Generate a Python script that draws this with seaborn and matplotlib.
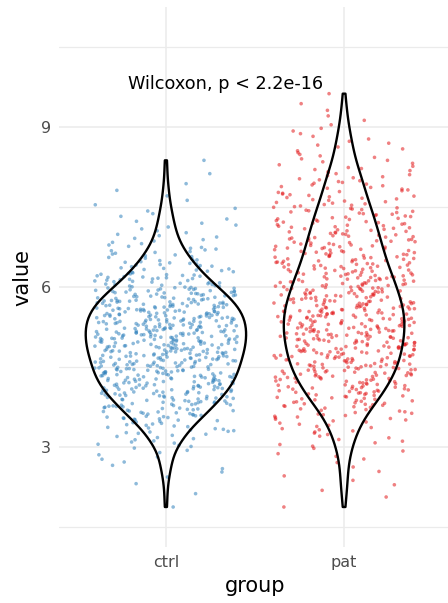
import numpy as np
import pandas as pd
import matplotlib
matplotlib.use("Agg")
import matplotlib.pyplot as plt
import seaborn as sns

# ---- data ----
groups = ["ctrl", "pat"]
bin_width = 0.25
# lower edges of value bins
ctrl_bins = [1.75, 2.0, 2.25, 2.5, 2.75, 3.0, 3.25, 3.5, 3.75, 4.0, 4.25, 4.5, 4.75,
             5.0, 5.25, 5.5, 5.75, 6.0, 6.25, 6.5, 6.75, 7.0, 7.25, 7.5, 7.75, 8.0, 8.25]
ctrl_counts = [1, 1, 2, 4, 6, 12, 20, 31, 41, 50, 55, 58, 61,
               62, 61, 56, 46, 34, 24, 16, 10, 7, 5, 3, 2, 1, 1]
pat_bins = [1.75, 2.0, 2.25, 2.5, 2.75, 3.0, 3.25, 3.5, 3.75, 4.0, 4.25, 4.5, 4.75,
            5.0, 5.25, 5.5, 5.75, 6.0, 6.25, 6.5, 6.75, 7.0, 7.25, 7.5, 7.75, 8.0,
            8.25, 8.5, 8.75, 9.0, 9.25, 9.5]
pat_counts = [1, 2, 3, 3, 5, 8, 12, 18, 27, 34, 40, 44, 46,
              48, 48, 47, 43, 40, 35, 32, 29, 26, 23, 19, 16, 13,
              9, 7, 5, 3, 2, 1]
y_ticks = [3, 6, 9]
label_text = "Wilcoxon, p < 2.2e-16"
colors = {"ctrl": "#3182bd", "pat": "#e31a1c"}


def expand(bins, counts):
    vals = []
    for lo, k in zip(bins, counts):
        for i in range(k):
            vals.append(lo + bin_width * (i + 0.5) / k)
    return vals


ctrl_vals = expand(ctrl_bins, ctrl_counts)
pat_vals = expand(pat_bins, pat_counts)
df = pd.DataFrame({
    "group": ["ctrl"] * len(ctrl_vals) + ["pat"] * len(pat_vals),
    "value": ctrl_vals + pat_vals,
})

sns.set_theme(style="whitegrid")
plt.rcParams["font.family"] = ["DejaVu Sans"]

fig = plt.figure(figsize=(4.48, 6.03), dpi=100)
ax = fig.add_axes([59 / 448, 56 / 603, 392 / 448, 540 / 603])

np.random.seed(3)
sns.stripplot(data=df, x="group", y="value", hue="group", order=groups,
              palette=colors, jitter=0.4, size=2.6, alpha=0.55, linewidth=0,
              legend=False, ax=ax, zorder=2)
n_before = len(ax.collections)
n_lines = len(ax.lines)
n_patches = len(ax.patches)
sns.violinplot(data=df, x="group", y="value", order=groups, fill=False,
               color="black", linecolor="black", linewidth=1.7, inner=None,
               cut=0, width=0.9, bw_adjust=0.6, density_norm="area", ax=ax)
for art in ax.collections[n_before:] + ax.lines[n_lines:] + ax.patches[n_patches:]:
    art.set_zorder(4)
    try:
        art.set_edgecolor("black")
    except Exception:
        pass

ax.text(0.335, 9.81, label_text, ha="center", va="center", fontsize=12.7,
        color="black")

ax.set_xlim(-0.6, 1.6)
ax.set_ylim(1.125, 11.25)
ax.set_yticks(y_ticks)
ax.set_yticks([1.5, 4.5, 7.5, 10.5], minor=True)
ax.grid(True, which="major", color="#ebebeb", linewidth=1.1)
ax.grid(True, which="minor", axis="y", color="#ebebeb", linewidth=0.9)
ax.set_facecolor("white")
for s in ax.spines.values():
    s.set_visible(False)
ax.tick_params(axis="both", which="both", length=0, labelsize=11.5,
               labelcolor="#4d4d4d")
ax.tick_params(axis="x", pad=6)
ax.tick_params(axis="y", pad=6)
ax.set_xlabel("group", fontsize=15, color="black", labelpad=4)
ax.set_ylabel("value", fontsize=15, color="black", labelpad=6)
ax.set_axisbelow(True)

fig.savefig("out.png", dpi=100, facecolor="white")
